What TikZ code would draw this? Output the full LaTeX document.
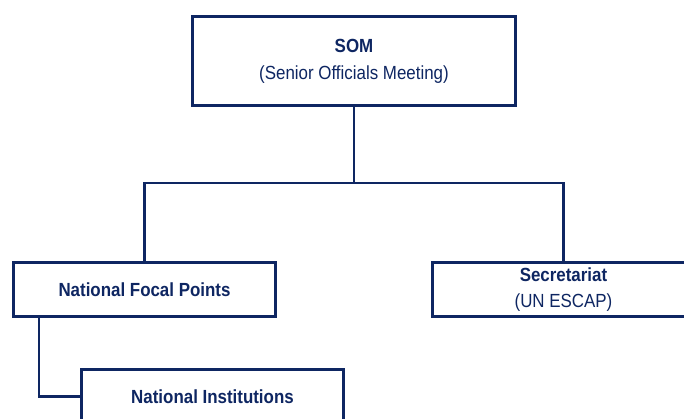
\documentclass[tikz,border=0pt]{standalone}
\usepackage{fontspec}
\setmainfont{Liberation Sans}[FakeStretch=0.89]
\definecolor{navy}{RGB}{14,38,98}
\begin{document}
\begin{tikzpicture}[x=1pt,y=-1pt,
  box/.style={draw=navy, line width=2.5pt, fill=white, inner sep=0pt, align=center,
    text=navy, font=\fontsize{19}{27}\selectfont, minimum width=262pt, minimum height=54pt},
  link/.style={draw=navy, line width=2.2pt}]
\useasboundingbox (0,0) rectangle (684,418);
\clip (0,0) rectangle (684,418);
\node[box, minimum width=323pt, minimum height=89pt] (som) at (354,61) {\textbf{SOM}\\(Senior Officials Meeting)};
\node[box] (nfp) at (144.5,289.5) {\textbf{National Focal Points}};
\node[box, font=\fontsize{19}{26}\selectfont] (sec) at (563.5,289.5) {\textbf{Secretariat}\\(UN ESCAP)};
\node[box] (ni) at (212.5,396.5) {\textbf{National Institutions}};
\coordinate (bus) at (354,183);
\draw[link] (som.south) -- (bus);
\draw[link] (nfp.north) |- (bus) -| (sec.north);
\draw[link] ([xshift=-105.5pt]nfp.south) |- (ni.west);
\end{tikzpicture}
\end{document}
